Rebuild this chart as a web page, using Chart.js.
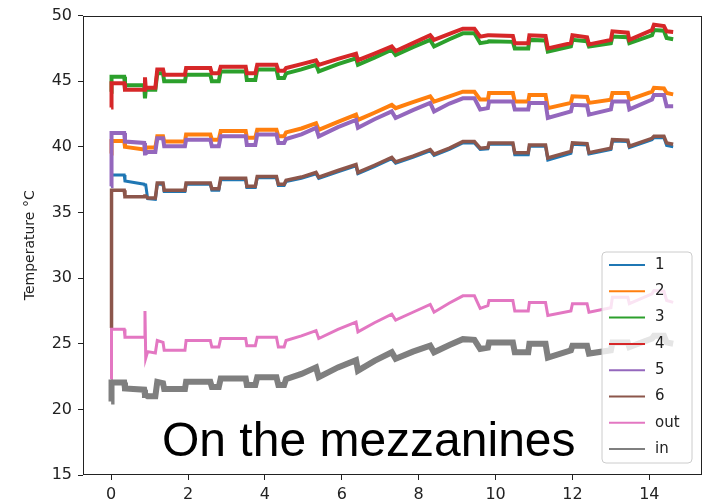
<!DOCTYPE html>
<html>
<head>
<meta charset="utf-8">
<script src="https://cdn.jsdelivr.net/npm/chart.js@4/dist/chart.umd.min.js"></script>
<style>
  html, body { margin: 0; padding: 0; background: #ffffff; }
  #wrap { width: 707px; height: 503px; }
</style>
</head>
<body>
<div id="wrap"><canvas id="c" width="707" height="503"></canvas></div>
<script>
// ---- data (time in days, temperature in °C) ----
const timeX = [0, 0.01, 0.34, 0.36, 0.86, 0.88, 0.9, 0.95, 1.15, 1.2, 1.35, 1.38, 1.92, 1.95, 2.58, 2.62, 2.8, 2.85, 3.5, 3.53, 3.75, 3.8, 4.3, 4.35, 4.5, 4.55, 4.95, 5.33, 5.4, 5.9, 6.37, 6.42, 6.85, 7.3, 7.4, 7.85, 8.3, 8.4, 8.8, 9.15, 9.45, 9.6, 9.8, 9.83, 10.45, 10.5, 10.85, 10.88, 11.3, 11.36, 11.96, 12.0, 12.38, 12.43, 13.0, 13.04, 13.44, 13.48, 14.07, 14.12, 14.38, 14.45, 14.62];

const s1 = [37.0, 37.85, 37.85, 37.4, 37.15, 37.1, 37.1, 36.05, 36.0, 37.15, 37.15, 36.6, 36.6, 37.15, 37.15, 36.7, 36.7, 37.5, 37.5, 36.9, 36.9, 37.65, 37.65, 37.05, 37.05, 37.35, 37.6, 37.95, 37.6, 38.1, 38.55, 37.95, 38.5, 39.1, 38.75, 39.2, 39.7, 39.35, 39.8, 40.3, 40.3, 39.8, 39.85, 40.2, 40.2, 39.4, 39.4, 40.05, 40.05, 39.0, 39.5, 40.2, 40.15, 39.45, 39.8, 40.45, 40.4, 39.95, 40.55, 40.7, 40.7, 40.1, 40.0];
const s2 = [39.5, 40.45, 40.45, 40.0, 39.8, 39.9, 39.9, 39.95, 39.95, 40.8, 40.8, 40.4, 40.4, 40.95, 40.95, 40.55, 40.55, 41.2, 41.2, 40.7, 40.7, 41.3, 41.3, 40.8, 40.8, 41.1, 41.4, 41.8, 41.3, 41.9, 42.45, 42.05, 42.6, 43.2, 42.95, 43.4, 43.85, 43.45, 43.85, 44.2, 44.2, 43.6, 43.6, 44.1, 44.1, 43.45, 43.45, 43.95, 43.95, 42.95, 43.35, 43.85, 43.8, 43.35, 43.6, 44.1, 44.1, 43.6, 44.2, 44.5, 44.45, 44.1, 44.0];
const s3 = [44.2, 45.35, 45.35, 44.7, 44.7, 43.7, 44.35, 44.35, 44.35, 45.6, 45.6, 45.0, 45.0, 45.5, 45.5, 45.0, 45.0, 45.75, 45.75, 45.1, 45.1, 45.9, 45.9, 45.25, 45.25, 45.6, 45.9, 46.25, 45.75, 46.3, 46.75, 46.25, 46.8, 47.4, 47.0, 47.6, 48.15, 47.65, 48.2, 48.65, 48.65, 47.9, 48.0, 48.05, 48.0, 47.5, 47.5, 48.15, 48.1, 47.25, 47.65, 48.15, 48.05, 47.65, 47.9, 48.4, 48.35, 47.9, 48.5, 48.9, 48.85, 48.3, 48.2];
const s4 = [43.0, 44.85, 44.85, 44.35, 44.35, 45.3, 44.5, 44.5, 44.5, 45.9, 45.9, 45.5, 45.5, 46.0, 46.0, 45.6, 45.6, 46.1, 46.1, 45.6, 45.6, 46.25, 46.25, 45.8, 45.8, 46.0, 46.3, 46.6, 46.25, 46.7, 47.1, 46.6, 47.1, 47.65, 47.3, 47.9, 48.5, 48.15, 48.6, 49.0, 49.0, 48.4, 48.5, 48.5, 48.45, 47.9, 47.9, 48.5, 48.45, 47.5, 47.9, 48.5, 48.35, 47.8, 48.15, 48.8, 48.7, 48.15, 48.9, 49.3, 49.2, 48.8, 48.75];
const s5 = [37.0, 41.05, 41.05, 40.4, 40.3, 39.5, 39.5, 39.6, 39.6, 40.65, 40.65, 40.05, 40.05, 40.55, 40.55, 40.05, 40.05, 40.8, 40.8, 40.15, 40.15, 40.95, 40.95, 40.3, 40.3, 40.6, 40.95, 41.45, 40.8, 41.5, 42.05, 41.45, 42.1, 42.7, 42.2, 42.8, 43.35, 42.7, 43.3, 43.7, 43.7, 42.85, 42.95, 43.45, 43.45, 42.85, 42.85, 43.35, 43.35, 42.2, 42.7, 43.2, 43.15, 42.45, 42.85, 43.45, 43.45, 42.85, 43.6, 43.95, 43.95, 43.1, 43.1];
const s6 = [26.2, 36.7, 36.7, 36.2, 36.2, 36.25, 36.25, 36.1, 36.1, 37.25, 37.25, 36.7, 36.7, 37.25, 37.25, 36.8, 36.8, 37.6, 37.6, 37.0, 37.0, 37.75, 37.75, 37.15, 37.15, 37.45, 37.7, 38.05, 37.7, 38.2, 38.65, 38.05, 38.6, 39.2, 38.85, 39.3, 39.8, 39.45, 39.9, 40.4, 40.4, 39.9, 39.95, 40.3, 40.3, 39.55, 39.55, 40.15, 40.15, 39.15, 39.65, 40.3, 40.25, 39.55, 39.9, 40.55, 40.5, 40.05, 40.65, 40.8, 40.8, 40.3, 40.2];
const sOut = [22.3, 26.1, 26.1, 25.5, 25.5, 27.5, 23.9, 24.4, 24.3, 25.25, 25.1, 24.5, 24.5, 25.25, 25.25, 24.75, 24.75, 25.4, 25.4, 24.85, 24.85, 25.5, 25.5, 24.75, 24.75, 25.25, 25.6, 26.0, 25.4, 26.1, 26.65, 25.9, 26.6, 27.25, 26.8, 27.4, 28.0, 27.4, 28.1, 28.65, 28.65, 27.7, 27.9, 28.3, 28.3, 27.5, 27.5, 28.15, 28.15, 27.15, 27.5, 28.05, 28.05, 27.4, 27.75, 28.55, 28.55, 28.05, 28.8, 29.05, 29.0, 28.3, 28.15];
const sIn = [20.6, 22.05, 22.05, 21.6, 21.5, 21.1, 21.1, 21.0, 21.0, 22.1, 22.0, 21.55, 21.55, 22.1, 22.1, 21.7, 21.7, 22.35, 22.35, 21.85, 21.85, 22.45, 22.45, 21.85, 21.85, 22.3, 22.7, 23.2, 22.45, 23.2, 23.75, 22.95, 23.7, 24.35, 23.85, 24.4, 24.85, 24.35, 24.9, 25.35, 25.3, 24.6, 24.7, 25.1, 25.1, 24.35, 24.35, 25.0, 25.0, 23.95, 24.5, 24.85, 24.85, 24.25, 24.5, 25.1, 25.1, 24.75, 25.4, 25.6, 25.6, 25.1, 25.0];

const seriesLabels = ['1', '2', '3', '4', '5', '6', 'out', 'in'];
const seriesValues = [s1, s2, s3, s4, s5, s6, sOut, sIn];
const xTickValues = [0, 2, 4, 6, 8, 10, 12, 14];
const yTickValues = [15, 20, 25, 30, 35, 40, 45, 50];
const yAxisTitle = 'Temperature °C';
const annotationText = 'On the mezzanines';

// ---- styles ----
const colors = ['#1f77b4', '#ff7f0e', '#2ca02c', '#d62728', '#9467bd', '#8c564b', '#e377c2', '#7f7f7f'];
const widths = [3, 4, 4, 4, 4, 3.5, 3, 6];

const datasets = seriesValues.map((vals, i) => ({
  label: seriesLabels[i],
  data: timeX.map((x, j) => ({ x: x, y: vals[j] })),
  borderColor: colors[i],
  backgroundColor: colors[i],
  borderWidth: widths[i],
  pointRadius: 0,
  tension: 0,
  fill: false,
  order: seriesValues.length - i
}));

const frameAndExtras = {
  id: 'frameAndExtras',
  afterDatasetsDraw(chart) {
    const ctx = chart.ctx;
    const a = chart.chartArea;
    ctx.save();
    // annotation text
    ctx.fillStyle = '#000';
    ctx.font = '48px "Liberation Sans", Arial, sans-serif';
    ctx.textBaseline = 'alphabetic';
    ctx.textAlign = 'left';
    ctx.fillText(annotationText, 162, 456);
    // legend
    const lx = 602, ly = 252, lw = 90, lh = 211, r = 4;
    ctx.beginPath();
    ctx.moveTo(lx + r, ly);
    ctx.lineTo(lx + lw - r, ly);
    ctx.quadraticCurveTo(lx + lw, ly, lx + lw, ly + r);
    ctx.lineTo(lx + lw, ly + lh - r);
    ctx.quadraticCurveTo(lx + lw, ly + lh, lx + lw - r, ly + lh);
    ctx.lineTo(lx + r, ly + lh);
    ctx.quadraticCurveTo(lx, ly + lh, lx, ly + lh - r);
    ctx.lineTo(lx, ly + r);
    ctx.quadraticCurveTo(lx, ly, lx + r, ly);
    ctx.closePath();
    ctx.fillStyle = 'rgba(255,255,255,0.8)';
    ctx.fill();
    ctx.strokeStyle = '#cccccc';
    ctx.lineWidth = 1;
    ctx.stroke();
    ctx.font = '15px "DejaVu Sans", sans-serif';
    ctx.textBaseline = 'middle';
    chart.data.datasets.forEach((ds, i) => {
      const cy = 265 + i * 26.3;
      ctx.strokeStyle = ds.borderColor;
      ctx.lineWidth = 2;
      ctx.beginPath();
      ctx.moveTo(609, cy);
      ctx.lineTo(645, cy);
      ctx.stroke();
      ctx.fillStyle = '#222';
      ctx.fillText(ds.label, 655, cy);
    });
    // frame
    ctx.strokeStyle = '#222';
    ctx.lineWidth = 1;
    ctx.strokeRect(Math.round(a.left) + 0.5, Math.round(a.top) + 0.5, Math.round(a.right - a.left) - 1, Math.round(a.bottom - a.top) - 1);
    ctx.restore();
  }
};

new Chart(document.getElementById('c'), {
  type: 'line',
  data: { datasets: datasets },
  plugins: [frameAndExtras],
  options: {
    responsive: false,
    animation: false,
    devicePixelRatio: 1,
    layout: { padding: { top: 14, right: 5, left: 0, bottom: 0 } },
    plugins: { legend: { display: false }, tooltip: { enabled: false } },
    scales: {
      x: {
        type: 'linear',
        min: -0.732,
        max: 15.37,
        afterBuildTicks: (s) => { s.ticks = xTickValues.map(v => ({ value: v })); },
        afterFit: (s) => { s.height = 28; },
        ticks: {
          color: '#222',
          font: { family: '"DejaVu Sans", sans-serif', size: 16 },
          padding: 5,
          maxRotation: 0,
          callback: (v) => String(v)
        },
        grid: { display: true, drawOnChartArea: false, drawTicks: true, tickLength: 5, color: '#222' },
        border: { display: false }
      },
      y: {
        type: 'linear',
        min: 15,
        max: 50,
        afterBuildTicks: (s) => { s.ticks = yTickValues.map(v => ({ value: v })); },
        afterFit: (s) => { s.width = 83; },
        title: {
          display: true,
          text: yAxisTitle,
          color: '#222',
          font: { family: '"DejaVu Sans", sans-serif', size: 14 },
          padding: { top: 22, bottom: 0 }
        },
        ticks: {
          color: '#222',
          font: { family: '"DejaVu Sans", sans-serif', size: 16 },
          padding: 6,
          callback: (v) => String(v)
        },
        grid: { display: true, drawOnChartArea: false, drawTicks: true, tickLength: 5, color: '#222' },
        border: { display: false }
      }
    }
  }
});
</script>
</body>
</html>
